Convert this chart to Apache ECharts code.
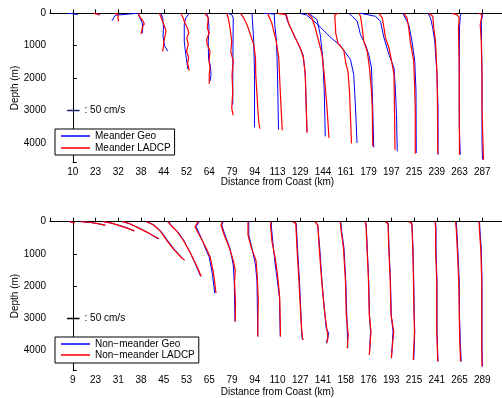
<!DOCTYPE html>
<html><head><meta charset="utf-8">
<script src="https://cdn.jsdelivr.net/npm/echarts@6/dist/echarts.min.js"></script>
<style>html,body{margin:0;padding:0;overflow:hidden;background:#fff}#c{width:508px;height:398px}</style>
</head><body><div id="c"></div><script>
// Station tick labels (distance from coast, km)
const topLabels = ['10','23','32','38','44','52','64','79','94','113','129','144','161','179','197','215','239','263','287'];
const bottomLabels = ['9','23','31','38','45','53','65','79','94','110','127','141','158','176','193','215','241','265','289'];

// Profiles per station: [velocity (cm/s), depth (m)]
const meanderGeo = [
 [[-20,0],[0,15],[20,40]],
 [[-4,5],[8,25],[16,50]],
 [[79,0],[-12,60],[-25,230]],
 [[-13,0],[-4,144],[5,300],[7,450],[5,617]],
 [[-11,0],[-4,144],[-1,453],[-3,700],[3,1000],[16,1170]],
 [[11,0],[-3,144],[-9,350],[-9,865],[-3,1276],[4,1637],[5,1720]],
 [[-11,0],[-4,144],[-1,453],[-4,865],[-3,1380],[5,1637],[7,1893],[3,2100]],
 [[-17,0],[-1,41],[5,144],[4,1000],[3,2000],[3,2820]],
 [[-11,0],[-7,41],[-4,865],[-1,1893],[-1,3520]],
 [[-56,0],[-13,20],[-11,350],[-4,865],[0,1893],[4,3590]],
 [[-60,0],[-51,247],[-13,865],[11,1276],[20,1893],[24,2922],[27,3643]],
 [[-57,0],[-24,196],[-11,659],[-1,1379],[5,2408],[9,3797]],
 [[-184,0],[-157,51],[-117,309],[-64,721],[-24,979],[0,1224],[19,1430],[32,1893],[39,2922],[45,4000]],
 [[-79,0],[-65,93],[-45,247],[-32,659],[-12,967],[1,1276],[12,1688],[17,2922],[21,4137]],
 [[-123,0],[-63,93],[-43,247],[-29,761],[-9,1276],[11,1688],[17,2408],[21,3128],[24,4260]],
 [[-45,0],[-35,144],[-21,350],[-8,864],[3,1482],[8,2408],[9,4310]],
 [[-35,0],[-25,144],[-16,453],[-8,864],[1,1893],[5,2922],[5,4363]],
 [[7,0],[3,93],[0,453],[-1,1893],[-1,3437],[3,4363]],
 [[3,0],[-4,247],[-1,1893],[-1,3951],[1,4517]]
];
const meanderLadcp = [
 [],
 [[-8,0],[5,20],[16,50]],
 [[-15,0],[0,40],[-1,140],[7,195],[1,250]],
 [[-11,0],[-4,123],[9,247],[13,329],[5,432],[3,556],[0,638]],
 [[-17,0],[-11,123],[-5,247],[3,400],[9,540],[5,710],[0,870],[-1,1020],[-5,1175]],
 [[-23,0],[-13,144],[-7,300],[4,453],[9,607],[1,762],[7,967],[0,1173],[9,1379],[4,1533],[11,1770]],
 [[-17,0],[-11,41],[-4,144],[-8,453],[0,607],[3,660],[-11,813],[-8,967],[3,1173],[-1,1480],[3,1688],[0,1893],[0,2180]],
 [[-21,0],[-15,144],[-8,453],[-1,865],[-5,1173],[5,1480],[0,1893],[3,2410],[-1,2930],[5,3150]],
 [[-57,0],[-44,144],[-31,350],[-17,660],[-4,967],[3,1379],[4,1893],[9,2510],[12,2920],[16,3340],[20,3560]],
 [[-40,0],[-23,298],[-5,865],[5,1379],[11,2408],[19,3612]],
 [[-91,0],[-56,41],[-47,298],[-20,760],[0,1070],[13,1379],[20,1893],[24,2922],[27,3694]],
 [[-61,0],[-44,144],[-31,453],[-17,864],[-4,1276],[5,1893],[16,2922],[24,3850]],
 [[-31,0],[-44,51],[-40,618],[-31,927],[-8,1133],[0,1533],[9,1800],[15,2408],[18,3000],[23,4017]],
 [[-39,0],[-32,93],[-25,453],[-19,864],[-5,1173],[4,1688],[12,2408],[15,2922],[17,4106]],
 [[-49,0],[-36,144],[-29,453],[-23,761],[-9,1070],[4,1585],[11,1893],[13,2922],[15,4209]],
 [[-41,0],[-28,144],[-21,453],[-15,864],[-1,1482],[3,2408],[5,2922],[5,4330]],
 [[-32,0],[-16,93],[-12,453],[-5,864],[-3,1173],[1,1893],[3,2922],[4,4342]],
 [[-31,0],[-11,41],[-1,123],[-4,453],[-1,1893],[-1,2922],[0,4363]],
 [[-15,0],[-1,41],[-8,350],[-4,864],[-1,1893],[-1,2922],[5,4517]]
];
const nonMeanderGeo = [
 [[-11,0],[7,30]],
 [[-55,0],[-15,30],[9,60],[37,110]],
 [[-57,0],[-25,50],[7,120],[39,200],[63,290]],
 [[-71,0],[-43,70],[-7,200],[33,360],[69,540]],
 [[-67,0],[-39,100],[-11,300],[17,600],[45,880],[73,1120],[81,1190]],
 [[-72,0],[-56,150],[-36,300],[-12,560],[16,980],[40,1390],[56,1690]],
 [[-40,0],[-53,150],[-40,360],[-27,600],[-13,876],[0,1100],[13,1650],[22,2215]],
 [[-35,0],[-41,103],[-28,413],[-8,826],[5,1342],[9,1858],[12,3096]],
 [[-24,0],[-31,52],[-24,413],[-11,826],[3,1342],[9,1858],[12,3560]],
 [[-23,0],[-25,103],[-19,619],[-9,1342],[0,1858],[8,2374],[11,3560]],
 [[-27,0],[-16,52],[-11,826],[-3,1858],[3,2890],[7,3612],[13,3663]],
 [[-31,0],[-21,103],[-13,826],[-4,1858],[5,2683],[13,3302],[23,3457],[13,3767]],
 [[-20,0],[-16,310],[-7,826],[0,1858],[4,2890],[8,3922]],
 [[-12,0],[-9,103],[-5,826],[1,1858],[4,2890],[8,3406],[4,4128]],
 [[-23,0],[-12,52],[-9,826],[-3,1858],[0,2890],[7,3406],[1,4231]],
 [[-19,0],[-8,52],[-4,826],[-1,1858],[1,2890],[3,3406],[-1,4283]],
 [[-5,0],[-3,206],[-3,826],[1,1858],[1,2890],[1,3406],[5,4334]],
 [[-13,0],[-11,206],[-7,826],[-1,1858],[0,2890],[3,3715],[7,4334]],
 [[-11,0],[-8,413],[-4,826],[-1,1858],[-1,2890],[-1,3922],[1,4489]]
];
const nonMeanderLadcp = [
 [[-13,0],[8,35]],
 [[-58,0],[-18,25],[8,60],[40,105]],
 [[-60,0],[-27,45],[5,120],[37,205],[65,285]],
 [[-74,0],[-45,65],[-9,200],[31,355],[72,530]],
 [[-70,0],[-42,95],[-13,300],[14,600],[40,860],[70,1110],[84,1200]],
 [[-75,0],[-58,150],[-38,300],[-14,560],[15,960],[42,1390],[59,1700]],
 [[-44,0],[-57,150],[-44,360],[-25,620],[-9,876],[4,1100],[18,1650],[27,2210]],
 [[-38,0],[-44,103],[-31,413],[-10,826],[5,1200],[13,1500],[10,1858],[14,2500],[13,3096]],
 [[-27,0],[-34,52],[-27,413],[-13,826],[5,1200],[10,1700],[14,2400],[12,3560]],
 [[-26,0],[-28,103],[-22,619],[-10,1100],[-5,1342],[3,1858],[9,2374],[12,3560]],
 [[-30,0],[-18,52],[-13,826],[-5,1858],[2,2890],[5,3300],[10,3663]],
 [[-33,0],[-21,103],[-15,826],[-5,1858],[5,2683],[15,3302],[20,3600],[15,3767]],
 [[-22,0],[-18,310],[-9,826],[-1,1858],[2,2890],[10,3500],[6,3922]],
 [[-14,0],[-10,103],[-6,826],[0,1858],[3,2890],[10,3406],[3,4128]],
 [[-25,0],[-13,52],[-10,826],[-4,1858],[-1,2890],[10,3406],[0,4231]],
 [[-21,0],[-9,52],[-5,826],[-2,1858],[0,2890],[2,3406],[-3,4283]],
 [[-7,0],[-4,206],[-5,826],[0,1858],[0,2890],[0,3406],[4,4334]],
 [[-16,0],[-13,206],[-9,826],[-3,1858],[-1,2890],[1,3715],[4,4334]],
 [[-13,0],[-10,413],[-6,826],[-2,1858],[-2,2890],[-2,3922],[-1,4489]]
];
const scaleBar = [[0,3000],[50,3000]]; // 50 cm/s reference

const SCALE_CMS = 91;      // cm/s per station spacing
const SCALE_X0 = -0.25;    // reference bar start (station units)
const FONT = 'Liberation Sans, Arial, Helvetica, sans-serif';

function toXY(profile, i) { return profile.map(p => [i + p[0] / SCALE_CMS, p[1]]); }
function profileSeries(profiles, name, color, gi, width) {
  return profiles.map((p, i) => ({
    type: 'line', name, xAxisIndex: gi, yAxisIndex: gi, data: toXY(p, i),
    symbol: 'none', lineStyle: { color, width }, itemStyle: { color },
    animation: false, silent: true
  }));
}
function scaleSeries(gi, color) {
  return {
    type: 'line', xAxisIndex: gi, yAxisIndex: gi,
    data: scaleBar.map(p => [SCALE_X0 + p[0] / SCALE_CMS, p[1]]),
    symbol: 'none', lineStyle: { color, width: 1.5 }, animation: false, silent: true,
    endLabel: { show: true, formatter: ': 50 cm/s', distance: 5, fontSize: 10, fontFamily: FONT, color: '#000' }
  };
}
function xAx(gi, labels, gap) {
  return {
    gridIndex: gi, type: 'value', min: -1, max: 19, interval: 1,
    axisLine: { lineStyle: { color: '#000', width: 1 } },
    axisTick: { inside: true, length: 4, lineStyle: { color: '#000' } },
    splitLine: { show: false },
    axisLabel: { margin: 5, fontSize: 10, fontFamily: FONT, color: '#000',
      formatter: v => (v >= 0 && v < labels.length && Math.abs(v - Math.round(v)) < 1e-6) ? labels[Math.round(v)] : '' },
    name: 'Distance from Coast (km)', nameLocation: 'middle', nameGap: gap, nameMoveOverlap: false,
    nameTextStyle: { fontSize: 10, fontFamily: FONT, color: '#000' }
  };
}
function yAx(gi) {
  return {
    gridIndex: gi, type: 'value', inverse: true, min: 0, max: 4610, interval: 1000,
    axisLine: { lineStyle: { color: '#000', width: 1 } },
    axisTick: { inside: true, length: 4, lineStyle: { color: '#000' } },
    splitLine: { show: false },
    axisLabel: { margin: 4, fontSize: 10, fontFamily: FONT, color: '#000',
      formatter: v => (v % 1000 === 0) ? String(v) : '' },
    name: 'Depth (m)', nameLocation: 'middle', nameGap: 30, nameRotate: 90, nameMoveOverlap: false,
    nameTextStyle: { fontSize: 10, fontFamily: FONT, color: '#000' }
  };
}
function legend(names, top, gap, pad) {
  return {
    data: names, orient: 'vertical', left: 55, top, icon: 'rect', itemWidth: 29, itemHeight: 1.5, itemGap: gap,
    padding: pad, borderColor: '#000', borderWidth: 1, backgroundColor: '#fff',
    selectedMode: false, textStyle: { fontSize: 10, fontFamily: FONT, color: '#000' }
  };
}

const chart = echarts.init(document.getElementById('c'), null, { renderer: 'canvas' });
chart.setOption({
  animation: false,
  backgroundColor: '#fff',
  grid: [
    { left: 50, top: 13.3, width: 455, height: 149.4, containLabel: false, outerBoundsMode: 'none' },
    { left: 50, top: 221.7, width: 455, height: 148.7, containLabel: false, outerBoundsMode: 'none' }
  ],
  xAxis: [xAx(0, topLabels, 15), xAx(1, bottomLabels, 17)],
  yAxis: [yAx(0), yAx(1)],
  legend: [
    legend(['Meander Geo', 'Meander LADCP'], 129, 2, [2, 4, 2, 6]),
    legend(['Non\u2212meander Geo', 'Non\u2212meander LADCP'], 337, 1, [2, 4, 3, 6])
  ],
  series: [
    ...profileSeries(meanderGeo, 'Meander Geo', '#0000ff', 0, 1),
    ...profileSeries(meanderLadcp, 'Meander LADCP', '#ff0000', 0, 1.2),
    ...profileSeries(nonMeanderGeo, 'Non\u2212meander Geo', '#0000ff', 1, 1),
    ...profileSeries(nonMeanderLadcp, 'Non\u2212meander LADCP', '#ff0000', 1, 1.2),
    scaleSeries(0, '#1c1c6c'),
    scaleSeries(1, '#000000')
  ]
});
</script></body></html>
